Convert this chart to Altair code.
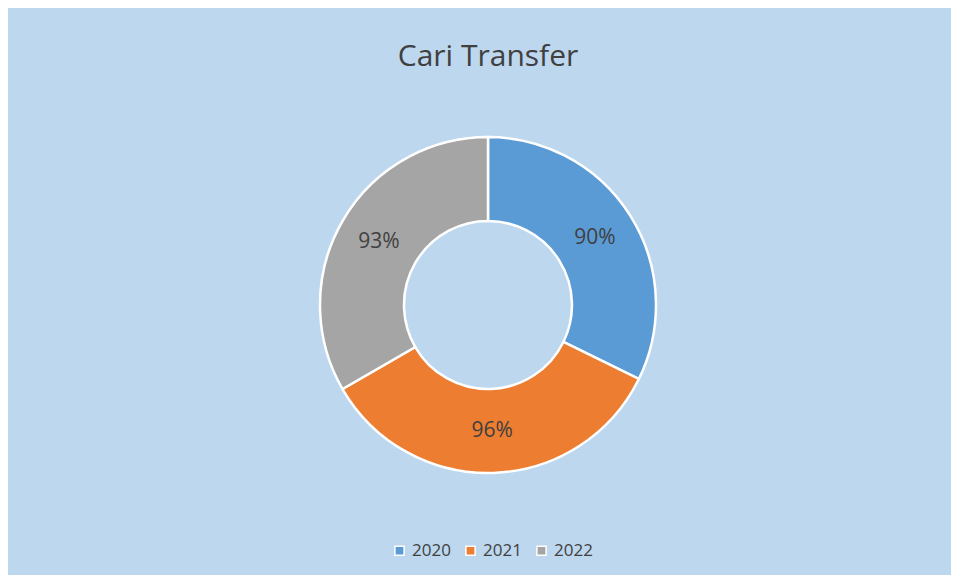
import altair as alt
import pandas as pd

years = ["2020", "2021", "2022"]
values = [90, 96, 93]
labels = ["90%", "96%", "93%"]
colors = ["#5B9BD5", "#ED7D31", "#A5A5A5"]

df = pd.DataFrame({"year": years, "value": values, "label": labels})

base = alt.Chart(df).encode(
    theta=alt.Theta("value:Q", stack=True),
    order=alt.Order("year:N"),
)

arcs = base.mark_arc(outerRadius=168, innerRadius=84, stroke="white", strokeWidth=2.5).encode(
    color=alt.Color(
        "year:N",
        scale=alt.Scale(domain=years, range=colors),
        legend=alt.Legend(
            title=None,
            orient="none",
            legendX=366,
            legendY=454,
            direction="horizontal",
            symbolType="square",
            symbolSize=85,
            symbolStrokeColor="white",
            symbolStrokeWidth=1.5,
            labelFont="Open Sans",
            labelFontSize=17,
            labelColor="#404040",
            columnPadding=11,
            labelOffset=4,
        ),
    )
)

text = base.mark_text(radius=126, font="Open Sans", fontSize=21, color="#404040").encode(
    text="label:N"
)

chart = (
    alt.layer(arcs, text)
    .properties(
        width=926,
        height=434,
        title=alt.TitleParams(
            "Cari Transfer",
            font="Open Sans",
            fontSize=30,
            fontWeight="normal",
            color="#404040",
            anchor="middle",
            offset=16,
        ),
        padding={"left": 17, "right": 0, "top": 80, "bottom": 53},
        autosize=alt.AutoSizeParams(type="none"),
        background="#BDD7EE",
    )
    .configure_view(stroke=None)
)

chart.save("out.html", embed_options={"renderer": "svg", "actions": False})
